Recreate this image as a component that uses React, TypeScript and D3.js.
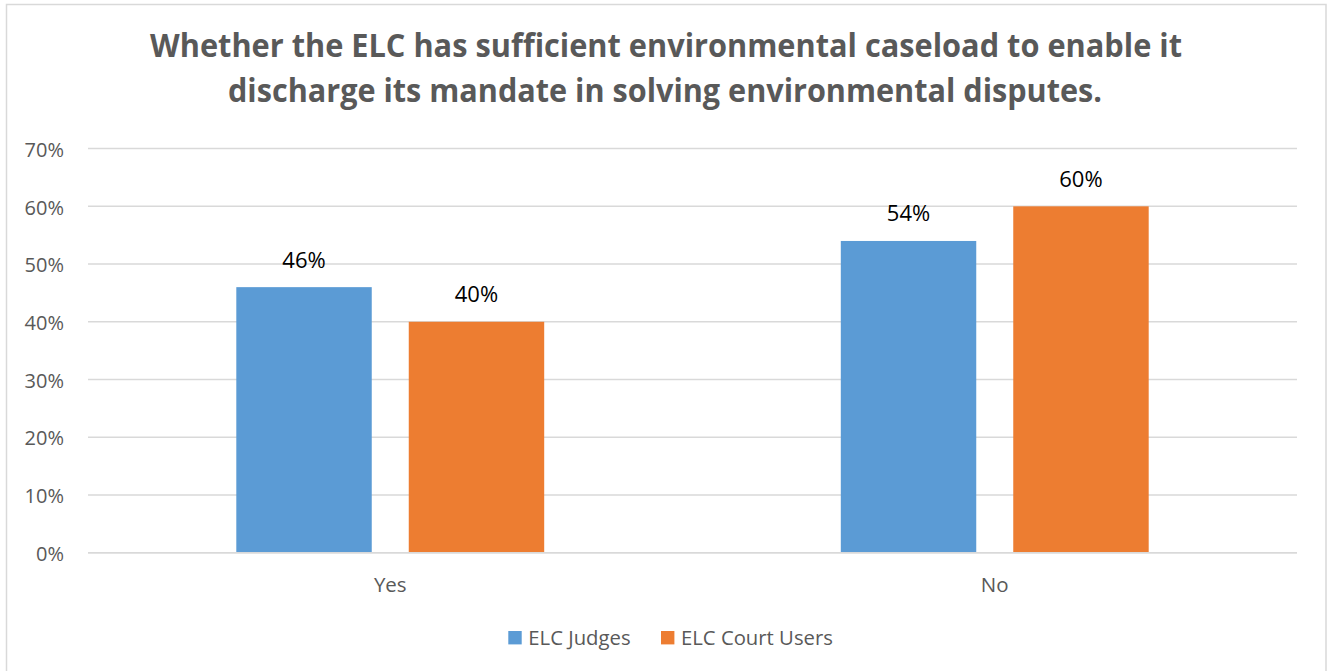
import React from "react";
import * as d3 from "d3";

const titleLines = [
  "Whether the ELC has sufficient environmental caseload to enable it",
  "discharge its mandate in solving environmental disputes.",
];
const categories = ["Yes", "No"];
const seriesNames = ["ELC Judges", "ELC Court Users"];
const judgesValues = [0.46, 0.54];
const courtUsersValues = [0.4, 0.6];
const yTicks = [0, 0.1, 0.2, 0.3, 0.4, 0.5, 0.6, 0.7];
const colors = ["#5B9BD5", "#ED7D31"];

const W = 1331;
const H = 671;
const FONT = "'Open Sans', 'Noto Sans', sans-serif";

export default function App() {
  const plotLeft = 88;
  const plotRight = 1297;
  const y = d3.scaleLinear().domain([0, 0.7]).range([552.7, 148.6]);
  const x0 = d3.scaleBand<string>().domain(categories).range([plotLeft, plotRight]).paddingInner(0).paddingOuter(0);
  const x1 = d3
    .scaleBand<string>()
    .domain(seriesNames)
    .range([0, x0.bandwidth()])
    .paddingInner(0.2146)
    .paddingOuter(0.86);
  const values = [judgesValues, courtUsersValues];
  const fmt = d3.format(".0%");

  const legendItems = [
    { name: seriesNames[0], sx: 508.3, tx: 528.3 },
    { name: seriesNames[1], sx: 661, tx: 681 },
  ];

  return (
    <svg
      width={W}
      height={H}
      style={{ position: "absolute", left: 0, top: 0, background: "#fff" }}
      fontFamily={FONT}
    >
      <rect x={0} y={0} width={W} height={H} fill="#fff" />
      <rect x={6.5} y={4.5} width={1319.5} height={680} fill="#fff" stroke="#d9d9d9" strokeWidth={1.5} />
      {/* title */}
      <text x={150} y={56.7} fill="#595959" fontSize={31.5} fontWeight={700} textLength={1032} lengthAdjust="spacingAndGlyphs">
        {titleLines[0]}
      </text>
      <text x={228} y={101.7} fill="#595959" fontSize={31.5} fontWeight={700} textLength={874} lengthAdjust="spacingAndGlyphs">
        {titleLines[1]}
      </text>
      {/* grid + y ticks */}
      {yTicks.map((t) => (
        <g key={t}>
          <line x1={plotLeft} x2={plotRight} y1={y(t)} y2={y(t)} stroke="#d9d9d9" strokeWidth={1.5} />
          <text x={64} y={y(t) + 8.2} textAnchor="end" fontSize={20} fill="#595959">
            {fmt(t)}
          </text>
        </g>
      ))}
      {/* bars */}
      {categories.map((c, ci) => (
        <g key={c} transform={`translate(${x0(c)},0)`}>
          {seriesNames.map((s, si) => {
            const v = values[si][ci];
            const bx = x1(s)!;
            return (
              <g key={s}>
                <rect x={bx} y={y(v)} width={x1.bandwidth()} height={y(0) - y(v)} fill={colors[si]} />
                <text
                  x={bx + x1.bandwidth() / 2}
                  y={y(v) - 19.6}
                  textAnchor="middle"
                  fontSize={22}
                  fill="#000"
                >
                  {fmt(v)}
                </text>
              </g>
            );
          })}
          <text x={x0.bandwidth() / 2} y={592.3} textAnchor="middle" fontSize={20.5} fill="#595959">
            {c}
          </text>
        </g>
      ))}
      <line x1={plotLeft} x2={plotRight} y1={y(0)} y2={y(0)} stroke="#d9d9d9" strokeWidth={1.5} />
      {/* legend */}
      {legendItems.map((l, i) => (
        <g key={l.name}>
          <rect x={l.sx} y={631} width={13.4} height={13.4} fill={colors[i]} />
          <text x={l.tx} y={645} fontSize={20.3} fill="#595959">
            {l.name}
          </text>
        </g>
      ))}
    </svg>
  );
}
